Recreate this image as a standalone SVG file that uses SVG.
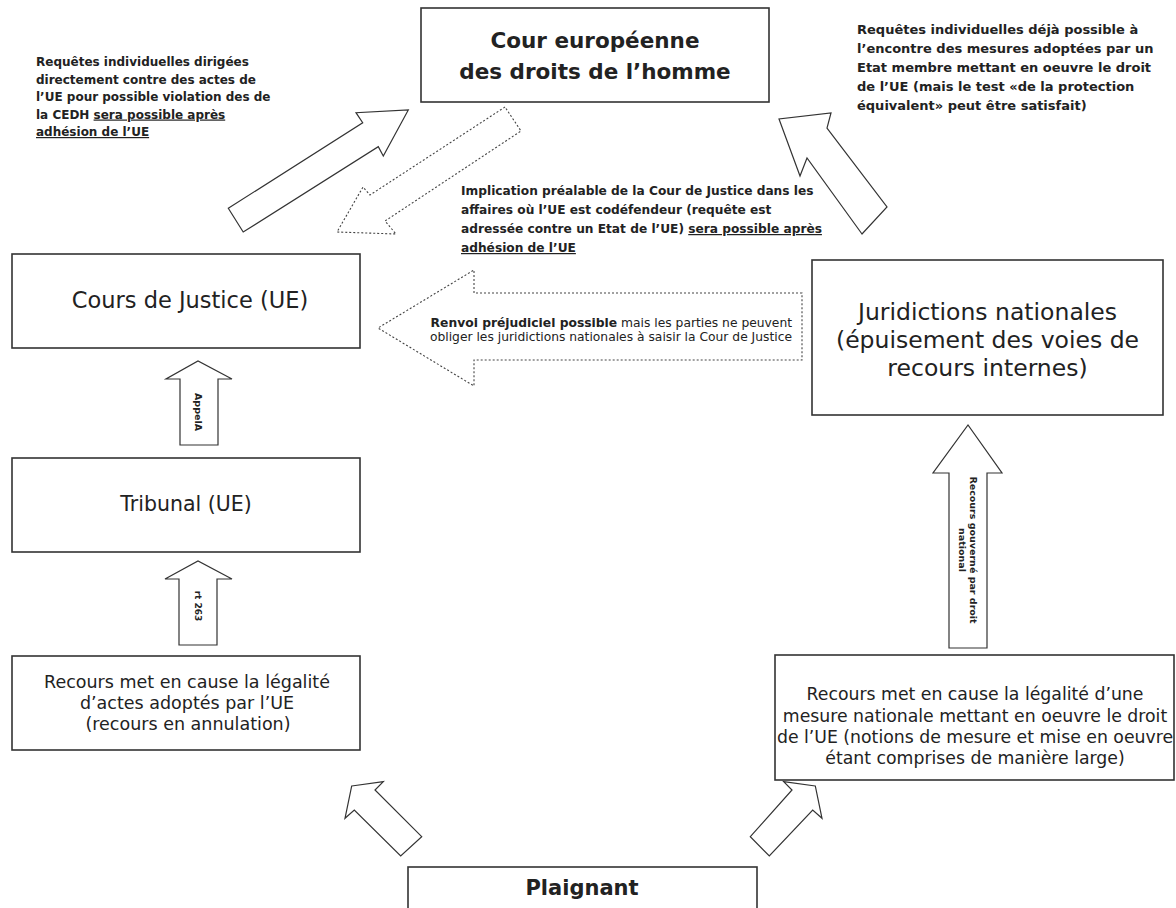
<svg xmlns="http://www.w3.org/2000/svg" width="1176" height="908" viewBox="0 0 1176 908">
<style>
.box{fill:#fff;stroke:#333;stroke-width:1.6}
.arr{fill:#fff;stroke:#333;stroke-width:1.2}
.dash{fill:#fff;stroke:#444;stroke-width:1.1;stroke-dasharray:2 2}
text{font-family:"DejaVu Sans","Verdana",sans-serif;fill:#222}
.b{font-weight:bold}
.u{text-decoration:underline}
.mid{text-anchor:middle}
.note{font-size:12px;font-weight:bold}
.noter{font-size:13px;font-weight:bold}
.notem{font-size:12.2px;font-weight:bold}
.rot{font-weight:bold;text-anchor:middle;dominant-baseline:central}
</style>
<rect width="1176" height="908" fill="#fff"/>
<g id="connectors">
  <polygon class="arr" points="228.3,208.3 362.7,122.7 356,112.7 408.3,110 383.3,156 378.3,146.7 243.2,232"/>
  <polygon class="dash" points="505,107 370,195 363,187 337,232 396,234 385,221 521,131"/>
  <polygon class="arr" points="862,234 807,158 800,176 779,119 831,113 827,128 887,207"/>
  <polygon class="dash" points="802,293 474,293 474,270 378,328 474,386 474,360 802,360"/>
  <polygon class="arr" points="180,445 180,379 166,379 198,361 232,379 218,379 218,445"/>
  <polygon class="arr" points="179,645 179,579 165,579 198,561 232,579 217,579 217,645"/>
  <polygon class="arr" points="949,648 949,473 933,473 968,425 1002,473 987,473 987,648"/>
  <polygon class="arr" points="351.7,786 383.3,781.7 375,790 421.7,836.7 400.7,856 354.3,810 345,818.3"/>
  <polygon class="arr" points="815.3,786 783.7,781.7 792,790 750.3,836.7 769.3,856 812.7,810 822,818.3"/>
  <text class="rot" font-size="9.5" transform="translate(198,412) rotate(90)">AppelA</text>
  <text class="rot" font-size="9" transform="translate(198,606) rotate(90)">rt 263</text>
  <text class="rot" font-size="9.5" transform="translate(973,550) rotate(90)">Recours gouverné par droit</text>
  <text class="rot" font-size="9.5" transform="translate(962,550) rotate(90)">national</text>
  <text font-size="12.3" text-anchor="end" x="792" y="327"><tspan class="b">Renvoi préjudiciel possible</tspan> mais les parties ne peuvent</text>
  <text font-size="12.3" text-anchor="end" x="792" y="341">obliger les juridictions nationales à saisir la Cour de Justice</text>
</g>
<g id="note-left">
  <text class="note" x="36" y="66">Requêtes individuelles dirigées</text>
  <text class="note" x="36" y="83.5">directement contre des actes de</text>
  <text class="note" x="36" y="101">l’UE pour possible violation des de</text>
  <text class="note" x="36" y="118.5">la CEDH <tspan class="u">sera possible après </tspan></text>
  <text class="note" x="36" y="136"><tspan class="u">adhésion de l’UE</tspan></text>
</g>
<g id="note-right">
  <text class="noter" x="857" y="34">Requêtes individuelles déjà possible à</text>
  <text class="noter" x="857" y="53">l’encontre des mesures adoptées par un</text>
  <text class="noter" x="857" y="72">Etat membre mettant en oeuvre le droit</text>
  <text class="noter" x="857" y="91">de l’UE (mais le test «de la protection</text>
  <text class="noter" x="857" y="110">équivalent» peut être satisfait)</text>
</g>
<g id="note-middle">
  <text class="notem" x="461" y="195">Implication préalable de la Cour de Justice dans les</text>
  <text class="notem" x="461" y="214">affaires où l’UE est codéfendeur (requête est</text>
  <text class="notem" x="461" y="233">adressée contre un Etat de l’UE) <tspan class="u">sera possible après</tspan></text>
  <text class="notem" x="461" y="252"><tspan class="u">adhésion de l’UE</tspan></text>
</g>
<g id="cedh">
  <rect class="box" x="421" y="8" width="348" height="94"/>
  <text class="b mid" font-size="21.5" x="595" y="48">Cour européenne</text>
  <text class="b mid" font-size="21.5" x="595" y="79">des droits de l’homme</text>
</g>
<g id="cour-justice">
  <rect class="box" x="12" y="254" width="348" height="94"/>
  <text class="mid" font-size="22.5" x="190" y="308">Cours de Justice (UE)</text>
</g>
<g id="tribunal">
  <rect class="box" x="12" y="458" width="348" height="94"/>
  <text class="mid" font-size="20.5" x="186" y="511">Tribunal (UE)</text>
</g>
<g id="recours-ue">
  <rect class="box" x="12" y="656" width="348" height="94"/>
  <text class="mid" font-size="17.5" x="187" y="688">Recours met en cause la légalité</text>
  <text class="mid" font-size="17.5" x="187" y="709">d’actes adoptés par l’UE</text>
  <text class="mid" font-size="17.5" x="188" y="730">(recours en annulation)</text>
</g>
<g id="juridictions">
  <rect class="box" x="812" y="260" width="351" height="155"/>
  <text class="mid" font-size="23.5" x="987.5" y="320">Juridictions nationales</text>
  <text class="mid" font-size="23.5" x="987.5" y="348">(épuisement des voies de</text>
  <text class="mid" font-size="23.5" x="987.5" y="376">recours internes)</text>
</g>
<g id="recours-national">
  <rect class="box" x="775" y="655" width="399" height="125"/>
  <text class="mid" font-size="17.3" x="975" y="700">Recours met en cause la légalité d’une</text>
  <text class="mid" font-size="17.3" x="975" y="722">mesure nationale mettant en oeuvre le droit</text>
  <text class="mid" font-size="17.3" x="975" y="743">de l’UE (notions de mesure et mise en oeuvre</text>
  <text class="mid" font-size="17.3" x="975" y="764">étant comprises de manière large)</text>
</g>
<g id="plaignant">
  <rect class="box" x="408" y="867" width="349" height="60"/>
  <text class="b mid" font-size="21" x="582" y="895">Plaignant</text>
</g>
</svg>
